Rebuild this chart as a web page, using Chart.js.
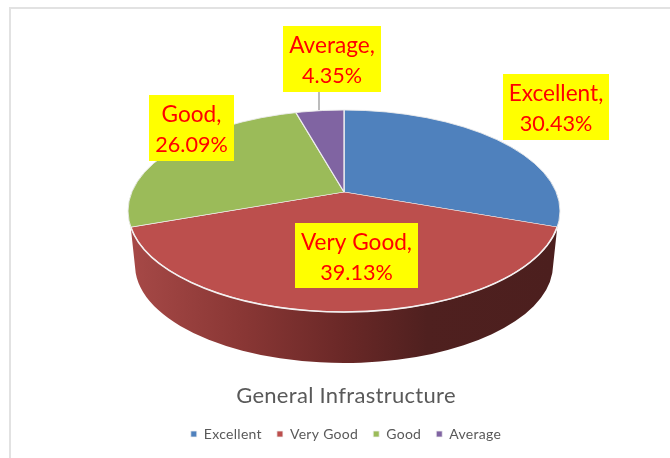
<!DOCTYPE html>
<html><head><meta charset="utf-8">
<style>html,body{margin:0;padding:0;background:#fff}canvas{display:block}</style>
<script src="https://cdn.jsdelivr.net/npm/chart.js@4"></script></head>
<body><canvas id="c" width="670" height="458"></canvas>
<script>
const categories = ['Excellent', 'Very Good', 'Good', 'Average'];
const percents = [30.43, 39.13, 26.09, 4.35];
const colors = ['#4F81BD', '#BC4F4D', '#9BBB59', '#8064A2'];
const titleText = 'General Infrastructure';
// label box geometry: left, top, right, bottom
const labelBoxes = [[503,74,609,140],[295,223,418,288],[149,95,234,161],[283,26,381,92]];
const face = {cx:344, cy:211, rx:216, ry:101, apexX:344, apexY:192, flat:0.463};
const base = {cy:265, rx:209, ry:98};
const rimY = 227, wallY = 273;

const pie3d = {
  id:'pie3d',
  beforeLayout(chart){ chart.ctx.letterSpacing='0.3px'; },
  beforeDraw(chart){
    const c = chart.ctx;
    c.letterSpacing='0.3px';
    c.fillStyle = '#e2e2e2';
    c.fillRect(9,7,661,2);
    c.fillRect(9,7,2,451);
  },
  beforeDatasetsDraw(chart){
    const c = chart.ctx, arc = chart.getDatasetMeta(0).data[0];
    const a1 = Math.asin((rimY-face.cy)/face.ry);
    const a2 = Math.asin((wallY-base.cy)/base.ry);
    const g = c.createLinearGradient(136,0,552,0);
    g.addColorStop(0,'#A54846');
    g.addColorStop(0.25,'#8A3735');
    g.addColorStop(0.5,'#6A2827');
    g.addColorStop(0.7,'#4F201F');
    g.addColorStop(1,'#4C1F1E');
    c.save();
    c.beginPath();
    c.ellipse(face.cx,face.cy,face.rx,face.ry,0,a1,Math.PI-a1);
    c.ellipse(face.cx,base.cy,base.rx,base.ry,0,Math.PI-a2,a2,true);
    c.closePath();
    c.fillStyle = g; c.fill();
    c.restore();
    // top face: library arcs, flattened about the apex and clipped to the rim
    c.save();
    c.beginPath();
    c.ellipse(face.cx,face.cy,face.rx,face.ry,0,0,Math.PI*2);
    c.clip();
    const k = 320/arc.outerRadius;
    c.translate(face.apexX,face.apexY);
    c.scale(k,k*face.flat);
    c.translate(-arc.x,-arc.y);
  },
  afterDatasetsDraw(chart){
    const c = chart.ctx;
    c.restore();
    c.save();
    const a1 = Math.asin((rimY-face.cy)/face.ry);
    c.beginPath();
    c.ellipse(face.cx,face.cy,face.rx,face.ry,0,0,Math.PI*2);
    c.strokeStyle='rgba(235,235,235,.9)'; c.lineWidth=1; c.stroke();
    c.beginPath();
    c.ellipse(face.cx,face.cy,face.rx,face.ry,0,a1,Math.PI-a1);
    c.strokeStyle='#f4f0f0'; c.lineWidth=1.6; c.stroke();
    c.strokeStyle='#A6A6A6'; c.lineWidth=1.5;
    c.beginPath(); c.moveTo(319,92); c.lineTo(319,110); c.stroke();
    c.letterSpacing='0px';
    c.textAlign='center'; c.textBaseline='alphabetic';
    categories.forEach((name,i)=>{
      const [l,t,r,b] = labelBoxes[i];
      c.fillStyle='#FFFF00'; c.fillRect(l,t,r-l,b-t);
      c.fillStyle='#FF0000';
      const x=(l+r)/2;
      c.font = '22.6px Lato, sans-serif';
      c.fillText(name+',',x,t+26.5);
      c.font = '21.6px Lato, sans-serif';
      c.fillText(percents[i].toFixed(2)+'%',x,t+57);
    });
    c.restore();
  }
};

new Chart(document.getElementById('c'),{
  type:'pie',
  data:{labels:categories,datasets:[{data:percents,backgroundColor:colors,borderColor:'rgba(240,240,240,.95)',borderWidth:0.8}]},
  plugins:[pie3d],
  options:{
    responsive:false,animation:false,devicePixelRatio:1,
    layout:{padding:{left:22,right:0,top:0,bottom:7}},
    plugins:{
      tooltip:{enabled:false},
      title:{display:true,text:titleText,position:'bottom',color:'#595959',font:{family:'Lato',size:22,weight:'normal'},padding:{top:4,bottom:3},weight:2000},
      legend:{display:true,position:'bottom',weight:3000,labels:{color:'#595959',font:{family:'Lato',size:14},usePointStyle:true,pointStyle:'rect',boxWidth:6,boxHeight:6,padding:15}}
    }
  }
});
</script></body></html>
